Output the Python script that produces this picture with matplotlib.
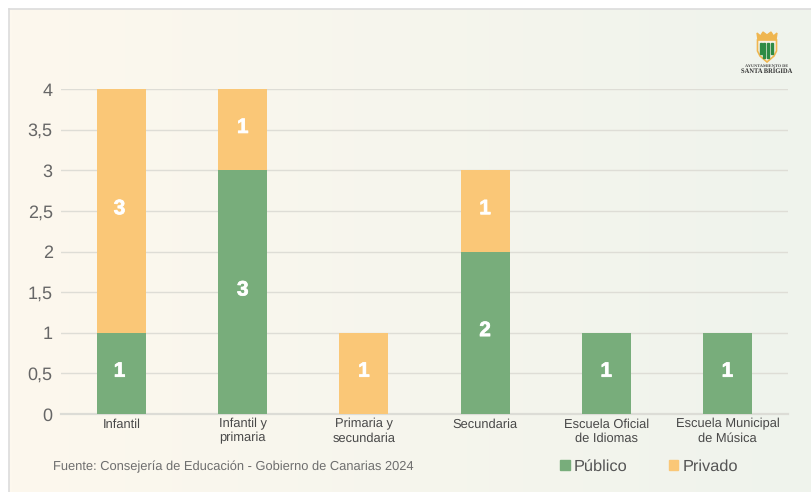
import matplotlib
matplotlib.use("Agg")
import matplotlib.pyplot as plt
import matplotlib.patches as mp
import matplotlib.patheffects as pe
import numpy as np

plt.rcParams['font.family'] = ['Liberation Sans', 'DejaVu Sans']
plt.rcParams['text.hinting'] = 'no_hinting'

categories = ["Infantil", "Infantil y\nprimaria", "Primaria y\nsecundaria", "Secundaria",
              "Escuela Oficial\nde Idiomas", "Escuela Municipal\nde Música"]
publico = [1, 3, 0, 2, 1, 1]
privado = [3, 1, 1, 1, 0, 0]
y_ticks = [0, 0.5, 1, 1.5, 2, 2.5, 3, 3.5, 4]
y_labels = ["0", "0,5", "1", "1,5", "2", "2,5", "3", "3,5", "4"]

GREEN = "#78AD7B"
ORANGE = "#FAC777"
W, H = 812, 492


def px_axes(fig, x0, y0, x1, y1):
    # pixel box measured from the top left corner of the image
    return fig.add_axes([x0 / W, 1 - y1 / H, (x1 - x0) / W, (y1 - y0) / H])


def bar_label(ax, i, y, n):
    # numbers sit about 2 px above the middle of the segment in the original
    dx = -1.5 if i == 0 else 0
    t = ax.annotate(str(n), (i, y), xytext=(dx, 1.5), textcoords="offset points", color="white",
                    fontsize=15, fontweight="bold", ha="center", va="center", zorder=4)
    t.set_path_effects([pe.withStroke(linewidth=0.5, foreground="white")])


fig = plt.figure(figsize=(W / 100, H / 100), dpi=100, facecolor="white")

# panel background, cream on the left to pale green on the right
ax_bg = px_axes(fig, 9, 9, W, H)
left = np.array([253, 248, 238]) / 255
right = np.array([239, 243, 236]) / 255
grad = np.linspace(0, 1, 256)[None, :, None]
ax_bg.imshow(left + (right - left) * grad, aspect="auto", extent=(0, 1, 0, 1))
ax_bg.set_xticks([])
ax_bg.set_yticks([])
for name, sp in ax_bg.spines.items():
    sp.set_color("#DCDCDC")
    sp.set_linewidth(1.2)
    sp.set_visible(name in ("left", "top"))

# chart
ax = px_axes(fig, 61, 89, 788, 414)
ax.patch.set_alpha(0)
x = np.arange(len(categories))
ax.bar(x, publico, 0.405, color=GREEN, zorder=3, label="Público")
ax.bar(x, privado, 0.405, bottom=publico, color=ORANGE, zorder=3, label="Privado")

for i in x:
    if publico[i]:
        bar_label(ax, i, publico[i] / 2, publico[i])
    if privado[i]:
        bar_label(ax, i, publico[i] + privado[i] / 2, privado[i])

ax.set_xlim(-0.5, 5.5)
ax.set_ylim(0, 4)
ax.set_yticks(y_ticks)
ax.set_yticklabels(y_labels, fontsize=13, color="#666666")
ax.set_xticks(x)
ax.set_xticklabels(categories, fontsize=9.3, color="#484848", linespacing=1.22)
ax.tick_params(axis="both", length=0)
ax.tick_params(axis="y", pad=6)
ax.tick_params(axis="x", pad=3)
ax.grid(axis="y", color="#DEDDD6", linewidth=1, zorder=0)
ax.set_axisbelow(True)
for name, sp in ax.spines.items():
    sp.set_visible(name == "bottom")
ax.spines["bottom"].set_color("#DCDCD6")
ax.spines["bottom"].set_linewidth(1.6)

# source and legend
fig.text(53 / W, 1 - 466.5 / H, "Fuente: Consejería de Educación - Gobierno de Canarias 2024",
         fontsize=9.3, color="#6E6E6E", va="center")
fig.patches.append(mp.Rectangle((560 / W, 1 - 470 / H), 9.5 / W, 10 / H, color=GREEN, transform=fig.transFigure))
fig.patches.append(mp.Rectangle((669 / W, 1 - 470 / H), 9.5 / W, 10 / H, color=ORANGE, transform=fig.transFigure))
fig.text(574 / W, 1 - 470.5 / H, "Público", fontsize=11.8, color="#555555", va="baseline")
fig.text(683 / W, 1 - 470.5 / H, "Privado", fontsize=11.8, color="#555555", va="baseline")

# town crest, top right
ax_logo = px_axes(fig, 754, 30, 780, 63)
ax_logo.set_xlim(0, 26)
ax_logo.set_ylim(33, 0)
ax_logo.axis("off")
ax_logo.add_patch(mp.Polygon([(3, 3), (6.5, 6), (9, 2), (13, 5), (17, 2), (19.5, 6), (23, 3), (22, 10), (4, 10)],
                             color="#EFB650"))
shield = [(3.5, 10), (22.5, 10), (22.5, 21), (20, 26), (13, 32), (6, 26), (3.5, 21)]
ax_logo.add_patch(mp.Polygon(shield, facecolor="#F6F3E6", edgecolor="#EFB650", linewidth=1.2))
for sx, sh in ((5.8, 11), (9.2, 15), (13.2, 15), (16.8, 11)):
    ax_logo.add_patch(mp.Rectangle((sx, 13), 2.2, sh, color="#2E8B45"))
fig.text(767 / W, 1 - 65.5 / H, "AYUNTAMIENTO DE", fontsize=3.2, fontweight="bold", family="Liberation Serif",
         color="#444444", ha="center", va="center")
fig.text(767 / W, 1 - 71.5 / H, "SANTA BRÍGIDA", fontsize=4.7, fontweight="bold", family="Liberation Serif",
         color="#333333", ha="center", va="center")

fig.savefig("out.png", dpi=100, facecolor=fig.get_facecolor())
